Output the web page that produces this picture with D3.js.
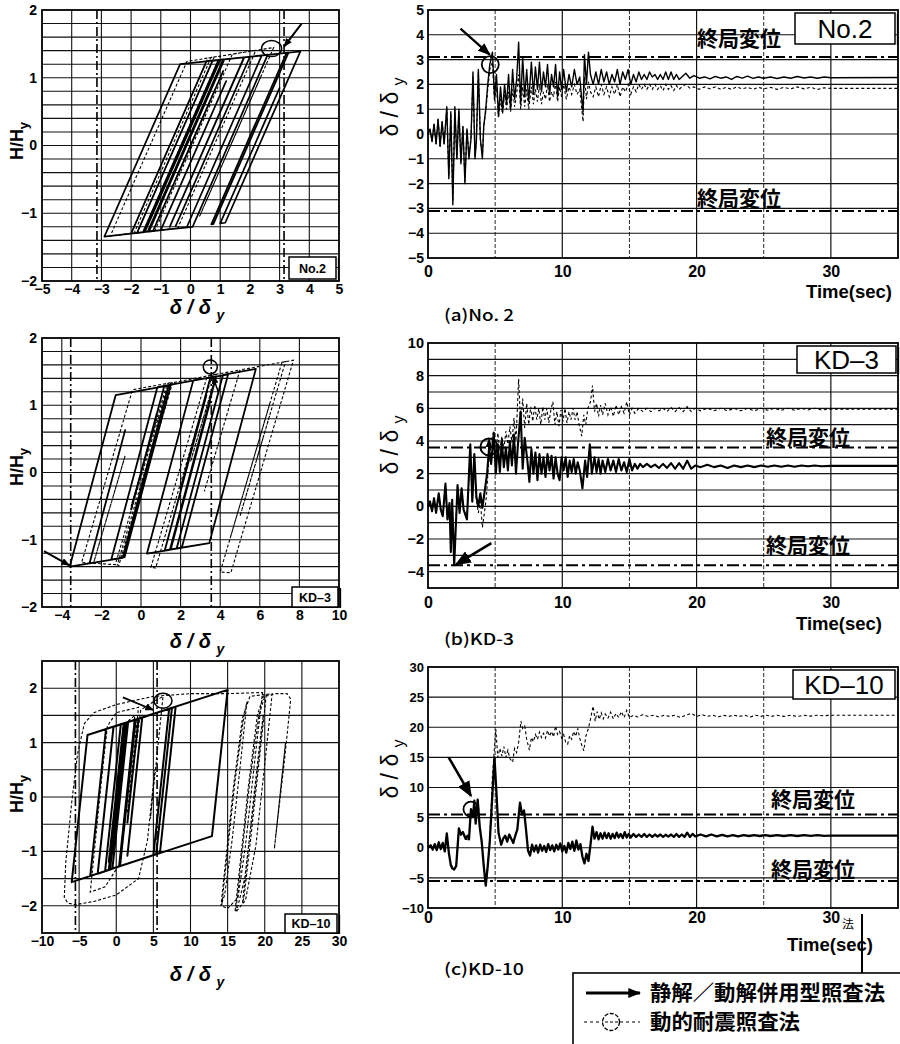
<!DOCTYPE html>
<html>
<head>
<meta charset="utf-8">
<script src="https://cdn.jsdelivr.net/npm/d3@7"></script>
<style>
  body { margin: 0; background: #fff; }
  svg text { font-family: "Liberation Sans", Arial, sans-serif; fill: #000; }
  .jp { font-family: "Noto Sans CJK JP", sans-serif; }
</style>
</head>
<body>
<svg id="fig" width="900" height="1044"></svg>
<script>
// hysteresis loops (delta/delta_y, H/H_y)
const hyNo2Solid = [[0,0],[0.6,0.6],[-0.4,-0.4],[0.7,0.7],[-0.5,-0.5],[1.1,1.1],[-1.26,-1.26],[-1.8,-1.29],[0.74,1.25],[1.1,1.27],[-1.44,-1.27],[-2.9,-1.345],[-0.35,1.2],[1.0,1.265],[-1.54,-1.28],[-2.0,-1.3],[0.54,1.245],[2.4,1.33],[-0.13,-1.21],[-1.6,-1.28],[0.94,1.26],[2.0,1.31],[-0.5,-1.19],[2.0,1.31],[2.6,1.34],[0.07,-1.2],[-1.0,-1.25],[1.2,0.95],[-1.0,-1.25],[-1.4,-1.27],[1.14,1.27],[1.8,1.3],[-0.7,-1.2],[1.81,1.3],[3.3,1.37],[0.77,-1.16],[0.7,-1.165],[3.23,1.365],[3.7,1.39],[1.17,-1.14],[1.0,-1.15],[3.0,0.85],[1.2,-0.95],[2.9,0.75],[1.5,-0.65],[2.8,0.65],[1.8,-0.35],[2.6,0.45],[2.0,-0.15],[2.5,0.35],[2.1,-0.05],[2.3,0.15]];
const hyNo2Dash = [[0,0],[0.6,0.6],[-0.4,-0.4],[0.8,0.8],[-0.5,-0.5],[1.1,1.1],[-1.26,-1.26],[-1.9,-1.295],[0.69,1.3],[1.0,1.32],[-1.6,-1.28],[-2.7,-1.335],[-0.12,1.24],[0.8,1.306],[-1.8,-1.29],[-2.0,-1.3],[0.59,1.29],[2.2,1.404],[-0.43,-1.22],[-1.2,-1.26],[1.41,1.35],[2.8,1.446],[0.3,-1.05],[2.4,1.05],[0.5,-0.85],[2.2,0.85],[0.8,-0.55],[2.0,0.65],[1.0,-0.35],[1.9,0.55],[1.6,0.25],[1.85,0.5]];
const hyKD3Solid = [[0,0],[0.8,0.88],[-0.5,-0.55],[1.17,1.28],[1.4,1.3],[-0.93,-1.27],[-2.6,-1.35],[-0.8,0.63],[-2.6,-1.35],[-3.6,-1.4],[-1.28,1.15],[1.5,1.3],[-0.83,-1.26],[-1.5,-1.295],[0.83,1.27],[3.8,1.43],[1.46,-1.15],[0.3,-1.205],[2.64,1.37],[3.5,1.41],[2.0,-0.24],[3.5,1.41],[4.4,1.46],[2.06,-1.12],[1.8,-1.13],[4.0,1.29],[2.0,-0.91],[4.14,1.45],[5.8,1.54],[3.45,-1.05],[1.5,-1.145],[3.5,1.06],[1.5,-1.145],[1.2,-1.16],[3.3,1.15],[1.8,-0.5],[3.0,0.82],[2.2,-0.06],[2.8,0.6],[2.5,0.27]];
const hyKD3Dash = [[0,0],[0.8,0.8],[-0.5,-0.5],[1.32,1.32],[1.4,1.33],[-1.3,-1.37],[-2.4,-1.35],[-0.8,0.25],[-2.4,-1.35],[-3.0,-1.34],[-0.43,1.23],[1.6,1.34],[-1.12,-1.38],[-1.2,-1.376],[1.51,1.33],[3.6,1.45],[0.74,-1.42],[0.5,-1.41],[3.34,1.43],[3.8,1.46],[2.5,0.16],[3.8,1.46],[5.0,1.525],[3.2,-0.28],[5.0,1.525],[7.7,1.67],[4.54,-1.49],[4.0,-1.48],[6.5,1.02],[4.5,-0.98],[7.12,1.64],[7.3,1.65],[5.0,-0.65],[6.5,0.85],[5.5,-0.15],[6.2,0.55],[5.8,0.15],[6.0,0.35]];
const hyKD10Solid = [[0,0],[1,1.27],[-0.5,-0.64],[1.07,1.35],[2.5,1.42],[0.38,-1.28],[-3.5,-1.45],[-1.38,1.25],[3.0,1.44],[1.5,-0.47],[3.0,1.44],[8.0,1.66],[5.88,-1.03],[5.0,-1.07],[7.12,1.62],[8.0,1.66],[5.88,-1.03],[-6.0,-1.565],[-3.87,1.14],[15,1.97],[12.89,-0.72],[0.5,-1.27],[2,0.64],[1,-0.64],[2.62,1.42],[7.5,1.64],[5.38,-1.05],[-1.5,-1.36],[0.62,1.34],[1,1.35],[-1,-1.19],[1.0,1.35],[1.2,1.36],[-0.8,-1.18],[1.0,1.11],[-0.92,-1.34],[-1.0,-1.34],[1.12,1.36],[1.3,1.365],[-0.6,-1.05],[0.9,0.86],[-0.7,-1.17],[1.1,1.12],[-0.83,-1.33],[-0.9,-1.335],[1.22,1.36],[1.4,1.37],[-0.5,-1.04],[1.4,1.37],[1.6,1.378],[-0.52,-1.32],[-2.5,-1.41],[-0.37,1.29],[3.5,1.46],[1.5,-1.08],[2.5,0.19],[1.8,-0.7],[2.2,-0.19],[2.0,-0.44]];
const hyKD10Dash = [[0,0],[1,1.2],[-0.5,-0.6],[1.2,1.35],[2.5,1.5],[0.6,-1.2],[-1.5,-1.65],[-3.5,-1.75],[-2.0,0.3],[-1.2,1.3],[0,1.55],[3.0,1.65],[1.5,-0.3],[3.3,1.6],[5.0,1.75],[6.3,1.85],[4.6,-0.4],[5.2,0.5],[4.2,-0.8],[3.0,-1.5],[0,-1.8],[-3,-1.92],[-5.5,-1.98],[-6.5,-1.95],[-7.0,-1.85],[-6.8,-1.2],[-6.0,-0.1],[-5.2,0.8],[-4.3,1.35],[-3,1.55],[0,1.7],[5,1.85],[10,1.9],[15,1.9],[19.7,1.92],[18.6,0.6],[17.4,-0.9],[16.4,-1.85],[15.0,-2.05],[14.2,-2.0],[16.0,0.3],[17.2,1.5],[17.6,1.75],[16.8,0.7],[15.6,-0.8],[14.6,-1.8],[14.1,-2.0],[15.8,0.2],[17.0,1.45],[18.0,1.85],[21,1.9],[20,0.6],[18.8,-0.9],[17.4,-1.9],[16.2,-2.1],[16.0,-2.1],[17.8,0.2],[19.0,1.5],[19.8,1.85],[20.2,1.88],[19.2,0.6],[18.0,-0.9],[17.2,-1.85],[17.0,-1.95],[18.6,0.1],[19.5,1.2],[19.8,1.5],[18.6,0],[17.3,-1.5],[16.3,-2.05],[16.1,-2.1],[18.0,0.3],[19.2,1.5],[20.0,1.85],[21.5,1.9],[23.0,1.9],[23.5,1.8],[22.6,0.6],[21.5,-0.7],[22.8,1.0],[21.3,-0.95],[22.5,0.6],[21.7,-0.45],[22.2,0.2],[22.0,-0.05]];

// time histories [time(sec), delta/delta_y]
const thNo2Solid = [[0,0],[0.15,0.2],[0.3,-0.3],[0.45,0.4],[0.6,-0.4],[0.75,0.6],[0.9,-0.5],[1.05,0.5],[1.2,-0.4],[1.4,1.1],[1.55,-1.8],[1.7,0.9],[1.85,-2.85],[2.0,1.1],[2.15,-1.0],[2.3,1.0],[2.45,-1.2],[2.6,0.3],[2.75,-2.0],[2.9,0.2],[3.05,-1.0],[3.2,-0.2],[3.35,2.5],[3.5,-1.0],[3.6,-0.3],[3.75,2.6],[3.9,-0.2],[4.05,-1.0],[4.15,0.3],[4.3,1.0],[4.45,2.0],[4.6,2.8],[4.8,3.3],[4.95,1.5],[5.1,2.4],[5.25,0.7],[5.4,1.9],[5.55,0.9],[5.7,2.0],[5.85,1.2],[6.0,2.4],[6.15,1.0],[6.3,2.6],[6.45,1.4],[6.6,2.2],[6.75,3.7],[6.9,1.2],[7.05,3.1],[7.2,1.5],[7.35,2.6],[7.5,1.3],[7.7,2.9],[7.85,1.6],[8.0,2.7],[8.15,1.8],[8.3,2.9],[8.45,1.7],[8.6,2.5],[8.75,1.9],[8.9,2.8],[9.05,1.6],[9.2,2.4],[9.35,1.9],[9.5,2.8],[9.65,1.5],[9.8,2.5],[9.95,1.8],[10.1,2.6],[10.3,1.7],[10.5,2.4],[10.7,1.9],[10.9,2.6],[11.1,2.0],[11.3,2.3],[11.45,1.4],[11.55,0.9],[11.65,3.2],[11.8,2.0],[11.95,3.3],[12.1,2.4],[12.3,2.0],[12.5,2.5],[12.7,2.0],[12.9,2.6],[13.1,2.1],[13.3,2.5],[13.5,2.0],[13.7,2.4],[13.9,2.1],[14.1,2.6],[14.3,2.0],[14.5,2.5],[14.7,2.2],[14.9,2.6],[15.1,2.0],[15.3,2.4],[15.5,2.1],[15.7,2.5],[15.9,2.2],[16.1,2.4],[16.3,2.2],[16.5,2.5],[16.7,2.3],[16.9,2.4],[17.1,2.2],[17.3,2.4],[17.5,2.2],[17.7,2.5],[17.9,2.2],[18.1,2.5],[18.3,2.2],[18.5,2.4],[18.7,2.2],[18.9,2.3],[19.2,2.45],[19.5,2.25],[19.8,2.35],[20.2,2.25],[20.6,2.3],[21.0,2.22],[21.4,2.32],[21.8,2.25],[22.2,2.3],[22.6,2.2],[23.0,2.32],[23.4,2.25],[23.8,2.33],[24.2,2.24],[24.6,2.3],[25.0,2.25],[25.5,2.3],[26.0,2.24],[26.5,2.3],[27.0,2.25],[27.5,2.32],[28.0,2.26],[28.5,2.3],[29.0,2.25],[29.5,2.3],[30.0,2.27],[35,2.28]];
const thNo2Dash = [[0,0],[0.15,0.2],[0.3,-0.3],[0.45,0.4],[0.6,-0.4],[0.75,0.6],[0.9,-0.5],[1.05,0.5],[1.2,-0.4],[1.4,1.0],[1.55,-1.7],[1.7,0.8],[1.85,-2.7],[2.0,1.0],[2.15,-1.0],[2.3,0.9],[2.45,-1.1],[2.6,0.3],[2.75,-1.9],[2.9,0.2],[3.05,-0.9],[3.2,-0.2],[3.35,2.3],[3.5,-0.9],[3.6,-0.3],[3.75,2.5],[3.9,-0.2],[4.05,-0.9],[4.15,0.3],[4.3,0.9],[4.45,1.8],[4.6,2.6],[4.8,2.9],[4.95,1.3],[5.1,1.9],[5.25,0.7],[5.4,1.4],[5.55,0.8],[5.7,1.6],[5.85,1.0],[6.0,1.7],[6.15,0.9],[6.3,1.8],[6.45,1.1],[6.6,1.6],[6.75,2.4],[6.9,1.0],[7.05,1.9],[7.2,1.1],[7.35,1.8],[7.5,1.0],[7.7,1.9],[7.85,1.2],[8.0,1.8],[8.15,1.3],[8.3,2.0],[8.45,1.2],[8.6,1.7],[8.75,1.4],[8.9,2.0],[9.05,1.3],[9.2,1.7],[9.35,1.5],[9.5,2.1],[9.65,1.3],[9.8,1.9],[9.95,1.5],[10.1,2.0],[10.3,1.4],[10.5,1.9],[10.7,1.6],[10.9,2.0],[11.1,1.6],[11.3,1.8],[11.45,1.0],[11.55,0.5],[11.65,2.3],[11.8,1.4],[11.95,2.1],[12.1,1.7],[12.3,1.5],[12.5,1.9],[12.7,1.5],[12.9,2.0],[13.1,1.6],[13.3,1.9],[13.5,1.5],[13.7,1.9],[13.9,1.6],[14.1,2.0],[14.3,1.5],[14.5,1.9],[14.7,1.7],[14.9,2.0],[15.1,1.6],[15.3,1.9],[15.5,1.7],[15.7,2.0],[15.9,1.8],[16.1,2.0],[16.3,1.8],[16.5,2.0],[16.7,1.8],[16.9,2.0],[17.1,1.8],[17.3,1.95],[17.5,1.75],[17.7,2.0],[17.9,1.8],[18.1,1.95],[18.3,1.75],[18.5,1.95],[18.7,1.8],[18.9,1.9],[19.2,2.0],[19.5,1.85],[19.8,1.9],[20.2,1.8],[20.6,1.9],[21.0,1.82],[21.4,1.9],[21.8,1.8],[22.2,1.88],[22.6,1.8],[23.0,1.9],[23.4,1.82],[23.8,1.88],[24.2,1.8],[24.6,1.88],[25.0,1.82],[25.5,1.88],[26.0,1.8],[26.5,1.88],[27.0,1.82],[27.5,1.9],[28.0,1.82],[28.5,1.88],[29.0,1.8],[29.5,1.86],[30.0,1.84],[35,1.84]];
const thKD3Solid = [[0,0],[0.15,0.3],[0.3,-0.3],[0.45,0.5],[0.6,-0.4],[0.8,0.8],[0.95,-0.2],[1.1,-0.6],[1.3,1.4],[1.45,-0.8],[1.6,0.2],[1.7,-2.8],[1.8,0.4],[1.95,-3.6],[2.2,1.3],[2.35,-0.4],[2.5,1.1],[2.65,-0.2],[2.9,-0.8],[3.15,3.8],[3.3,0.3],[3.45,3.2],[3.6,0.6],[3.75,0.0],[3.9,0.8],[4.05,-0.1],[4.2,0.8],[4.4,2.0],[4.55,3.6],[4.7,2.6],[4.9,4.5],[5.05,2.0],[5.2,3.8],[5.35,2.1],[5.5,4.0],[5.65,2.4],[5.8,3.6],[5.95,2.2],[6.1,4.0],[6.25,2.5],[6.4,4.4],[6.55,2.0],[6.7,3.8],[6.9,5.8],[7.05,2.3],[7.2,4.2],[7.4,2.8],[7.55,1.5],[7.7,3.5],[7.85,2.0],[8.0,3.3],[8.15,1.6],[8.3,3.2],[8.45,2.0],[8.6,3.0],[8.75,1.8],[8.9,3.2],[9.05,2.2],[9.2,3.1],[9.35,1.7],[9.5,3.0],[9.65,2.0],[9.8,1.6],[9.95,3.0],[10.1,2.2],[10.25,3.0],[10.4,1.8],[10.55,2.8],[10.7,2.1],[10.85,2.9],[11.0,2.0],[11.15,2.7],[11.3,2.2],[11.5,1.1],[11.7,2.8],[11.85,1.8],[12.05,3.8],[12.2,2.0],[12.4,3.0],[12.55,2.1],[12.7,2.9],[12.85,2.0],[13.0,2.8],[13.2,2.1],[13.4,2.9],[13.6,2.2],[13.8,2.8],[14.0,2.1],[14.2,2.9],[14.4,2.2],[14.6,2.7],[14.8,2.1],[15.0,2.9],[15.2,2.2],[15.4,2.6],[15.6,2.3],[15.8,2.6],[16.0,2.4],[16.3,2.6],[16.6,2.4],[16.9,2.55],[17.2,2.35],[17.5,2.6],[17.8,2.35],[18.1,2.65],[18.4,2.3],[18.7,2.65],[19.0,2.3],[19.3,2.8],[19.6,2.3],[19.9,2.5],[20.3,2.4],[20.8,2.55],[21.3,2.4],[21.8,2.5],[22.3,2.35],[22.8,2.5],[23.3,2.4],[23.8,2.5],[24.3,2.4],[24.8,2.5],[25.3,2.42],[25.8,2.5],[26.3,2.42],[26.8,2.5],[27.3,2.42],[27.8,2.5],[28.3,2.45],[28.8,2.5],[29.3,2.45],[30.0,2.48],[35,2.48]];
const thKD3Dash = [[0,0],[0.15,0.3],[0.3,-0.3],[0.45,0.5],[0.6,-0.4],[0.8,0.8],[0.95,-0.2],[1.1,-0.6],[1.3,1.3],[1.45,-0.8],[1.6,0.2],[1.7,-2.6],[1.8,0.4],[1.95,-3.3],[2.2,1.2],[2.35,-0.4],[2.5,1.0],[2.65,-0.2],[2.9,-0.7],[3.15,3.5],[3.3,0.2],[3.45,3.0],[3.6,0.4],[3.75,-0.4],[3.9,0.3],[4.05,-1.3],[4.2,-0.4],[4.35,0.6],[4.5,2.5],[4.7,4.0],[4.9,4.6],[5.05,3.2],[5.2,4.5],[5.35,3.4],[5.5,4.3],[5.65,3.5],[5.8,4.6],[5.95,3.8],[6.1,4.9],[6.25,3.9],[6.4,5.4],[6.55,4.0],[6.75,7.8],[6.9,5.0],[7.05,6.6],[7.2,4.8],[7.35,6.3],[7.5,5.0],[7.65,6.1],[7.8,5.2],[7.95,6.2],[8.1,5.3],[8.25,6.0],[8.4,5.0],[8.55,6.1],[8.7,5.3],[8.85,6.0],[9.0,5.1],[9.15,5.9],[9.3,6.4],[9.45,5.0],[9.6,5.8],[9.75,4.9],[9.9,5.9],[10.05,5.2],[10.2,6.0],[10.35,5.1],[10.5,5.8],[10.65,5.3],[10.8,6.0],[10.95,5.3],[11.1,5.8],[11.25,5.0],[11.45,4.3],[11.6,5.6],[11.75,5.0],[11.9,6.0],[12.1,6.4],[12.25,7.4],[12.4,5.8],[12.55,6.3],[12.7,5.5],[12.85,6.2],[13.0,5.6],[13.2,6.3],[13.4,5.6],[13.6,6.1],[13.8,5.5],[14.0,6.2],[14.2,5.6],[14.4,6.1],[14.6,5.7],[14.8,6.4],[15.0,5.6],[15.2,6.0],[15.4,5.7],[15.7,6.0],[16.0,5.8],[16.3,6.0],[16.6,5.8],[16.9,6.0],[17.2,5.85],[17.5,6.0],[17.8,5.8],[18.1,6.05],[18.4,5.8],[18.7,6.05],[19.0,5.8],[19.3,6.1],[19.6,5.8],[19.9,6.0],[20.3,5.85],[20.8,6.0],[21.3,5.85],[21.8,6.0],[22.3,5.85],[22.8,6.0],[23.3,5.85],[23.8,6.0],[24.3,5.85],[24.8,6.0],[25.3,5.88],[25.8,6.0],[26.3,5.88],[26.8,6.0],[27.3,5.88],[27.8,6.0],[28.3,5.9],[28.8,6.0],[29.3,5.9],[30,5.95],[35,5.95]];
const thKD10Solid = [[0,0],[0.2,0.4],[0.35,-0.3],[0.5,0.6],[0.65,-0.4],[0.8,0.9],[0.95,-0.2],[1.1,0.8],[1.25,-0.6],[1.4,2.4],[1.55,-0.8],[1.7,-2.9],[1.8,-3.4],[1.95,-3.6],[2.1,-3.0],[2.3,3.2],[2.45,2.2],[2.6,2.6],[2.8,1.5],[2.95,2.0],[3.05,1.4],[3.2,6.4],[3.35,5.2],[3.45,7.8],[3.55,4.0],[3.7,8.0],[3.85,3.5],[4.0,1.0],[4.15,-3.0],[4.3,-6.3],[4.45,-3.0],[4.6,1.0],[4.8,9.0],[4.95,15.0],[5.1,9.0],[5.25,2.5],[5.45,0.5],[5.6,1.5],[5.75,2.0],[5.9,1.0],[6.05,2.2],[6.2,1.5],[6.35,0.8],[6.5,2.0],[6.65,3.0],[6.85,7.5],[7.0,5.5],[7.15,6.2],[7.3,3.0],[7.45,-0.5],[7.6,-1.3],[7.75,0.5],[7.9,-0.6],[8.05,0.4],[8.2,-0.8],[8.35,0.5],[8.5,-0.5],[8.65,0.3],[8.8,-0.7],[8.95,0.6],[9.1,-0.4],[9.25,0.4],[9.4,-0.6],[9.55,0.5],[9.7,-0.3],[9.85,0.7],[10.0,-0.6],[10.15,0.3],[10.3,-0.8],[10.45,0.8],[10.6,-0.2],[10.75,1.0],[10.9,-0.5],[11.05,1.2],[11.2,-0.3],[11.35,0.6],[11.5,-1.5],[11.65,-2.6],[11.8,-1.0],[11.95,-2.2],[12.1,0.5],[12.25,3.5],[12.4,1.5],[12.55,2.6],[12.7,1.4],[12.85,2.4],[13.0,1.5],[13.15,2.5],[13.3,1.6],[13.45,2.4],[13.6,1.5],[13.75,2.3],[13.9,1.6],[14.05,2.5],[14.2,1.7],[14.35,2.3],[14.5,1.6],[14.65,2.6],[14.8,1.7],[14.95,2.3],[15.1,1.7],[15.3,2.3],[15.5,1.8],[15.7,2.2],[15.9,1.8],[16.1,2.3],[16.3,1.8],[16.5,2.2],[16.7,1.8],[16.9,2.2],[17.1,1.85],[17.3,2.2],[17.5,1.8],[17.7,2.15],[17.9,1.85],[18.1,2.2],[18.3,1.8],[18.5,2.3],[18.7,1.8],[18.9,2.2],[19.1,1.8],[19.3,2.5],[19.5,1.8],[19.7,2.3],[19.9,1.9],[20.3,2.2],[20.7,1.9],[21.1,2.2],[21.5,1.9],[21.9,2.15],[22.3,1.9],[22.7,2.1],[23.1,1.9],[23.5,2.1],[23.9,1.95],[24.3,2.1],[24.7,1.95],[25.1,2.1],[25.5,1.95],[26,2.1],[26.5,1.95],[27,2.08],[27.5,1.95],[28,2.08],[28.5,1.98],[29,2.08],[29.5,1.98],[30,2.0],[35,2.0]];
const thKD10Dash = [[0,0],[0.2,0.4],[0.35,-0.3],[0.5,0.6],[0.65,-0.4],[0.8,0.9],[0.95,-0.2],[1.1,0.8],[1.25,-0.6],[1.4,2.3],[1.55,-0.8],[1.7,-2.8],[1.95,-3.5],[2.1,-3.0],[2.3,3.0],[2.45,2.1],[2.6,2.5],[2.8,1.4],[3.05,1.3],[3.2,6.0],[3.35,5.0],[3.45,7.5],[3.55,4.0],[3.7,7.7],[3.85,3.5],[4.0,1.0],[4.15,-3.0],[4.3,-6.0],[4.45,-3.0],[4.6,1.5],[4.8,12.0],[5.05,19.7],[5.2,15.0],[5.35,16.5],[5.5,15.2],[5.65,16.8],[5.8,15.0],[5.95,16.2],[6.1,14.8],[6.3,14.2],[6.45,16.5],[6.6,15.8],[6.75,17.5],[6.92,21.0],[7.05,19.8],[7.2,20.2],[7.35,18.0],[7.55,16.2],[7.7,18.3],[7.85,17.6],[8.0,18.8],[8.15,18.0],[8.3,19.2],[8.45,18.3],[8.6,19.0],[8.75,18.2],[8.9,19.5],[9.05,18.5],[9.2,19.3],[9.35,18.4],[9.5,20.2],[9.65,18.8],[9.8,19.3],[9.95,18.2],[10.1,18.8],[10.25,17.5],[10.4,17.2],[10.55,18.6],[10.7,18.0],[10.85,19.3],[11.0,18.5],[11.15,19.8],[11.3,18.2],[11.45,17.0],[11.6,16.1],[11.75,18.5],[11.9,19.5],[12.05,20.8],[12.2,22.5],[12.3,23.5],[12.45,21.0],[12.6,22.6],[12.75,21.3],[12.9,22.4],[13.05,21.4],[13.2,22.2],[13.4,21.5],[13.6,22.5],[13.8,21.4],[14.0,22.3],[14.2,21.6],[14.4,22.6],[14.6,21.6],[14.8,22.8],[15.0,21.6],[15.3,22.0],[15.6,21.7],[16.0,22.1],[16.4,21.8],[16.8,22.0],[17.2,21.7],[17.6,22.0],[18.0,21.8],[18.4,22.0],[18.8,21.6],[19.2,22.0],[19.6,22.3],[20.0,21.8],[20.4,22.1],[20.8,21.8],[21.2,22.0],[21.6,21.7],[22.0,22.0],[22.4,21.8],[22.8,22.0],[23.2,21.8],[23.6,22.0],[24.0,21.7],[24.4,22.0],[24.8,21.8],[25.2,22.0],[25.6,21.8],[26,22.0],[26.5,21.8],[27,22.0],[27.5,21.8],[28,22.0],[28.5,21.85],[29,22.0],[29.5,21.9],[30,22.0],[35,22.0]];

// tick labels
const no2HxTicks = [-5,-4,-3,-2,-1,0,1,2,3,4,5];
const kd3HxTicks = [-4,-2,0,2,4,6,8,10];
const kd10HxTicks = [-10,-5,0,5,10,15,20,25,30];
const hyTicks = [-2,-1,0,1,2];
const timeTicks = [0,10,20,30];
const no2TTicks = [-5,-4,-3,-2,-1,0,1,2,3,4,5];
const kd3TTicks = [-4,-2,0,2,4,6,8,10];
const kd10TTicks = [-10,-5,0,5,10,15,20,25,30];

// ultimate displacement (終局変位)
const ultNo2 = 3.1, ultKD3 = 3.6, ultKD10 = 5.5;

const svg = d3.select("#fig");
const defs = svg.append("defs");
[["ahS", 9, 7], ["ahM", 13, 10], ["ahL", 16, 13]].forEach(function (m) {
  defs.append("marker").attr("id", m[0])
    .attr("viewBox", "0 0 10 10").attr("refX", 9).attr("refY", 5)
    .attr("markerUnits", "userSpaceOnUse")
    .attr("markerWidth", m[1]).attr("markerHeight", m[2])
    .attr("preserveAspectRatio", "none").attr("orient", "auto")
    .append("path").attr("d", "M0,0 L10,5 L0,10 z").attr("fill", "#000");
});

const intFormat = d3.format("d");

function labelBox(x, y, w, h, text, size, weight) {
  svg.append("line").attr("x1", x + w + 2.5).attr("x2", x + w + 2.5)
    .attr("y1", y + 1).attr("y2", y + h + 1).attr("stroke", "#000").attr("stroke-width", 1.3);
  svg.append("rect").attr("x", x).attr("y", y).attr("width", w).attr("height", h)
    .attr("fill", "#fff").attr("stroke", "#000").attr("stroke-width", 1.5);
  svg.append("text").attr("x", x + w / 2).attr("y", y + h / 2 + size * 0.36)
    .attr("text-anchor", "middle").attr("font-size", size).attr("font-weight", weight)
    .text(text);
}

function arrow(x1, y1, x2, y2, width, marker) {
  svg.append("line").attr("x1", x1).attr("y1", y1).attr("x2", x2).attr("y2", y2)
    .attr("stroke", "#000").attr("stroke-width", width)
    .attr("marker-end", "url(#" + marker + ")");
}

function drawHysteresis(p) {
  const x = d3.scaleLinear().domain(p.xDomain).range([42, 339]);
  const y = d3.scaleLinear().domain(p.yDomain).range([p.bottom, p.top]);
  const g = svg.append("g");

  g.append("g").selectAll("line").data(p.xGrid).join("line")
    .attr("x1", d => x(d)).attr("x2", d => x(d))
    .attr("y1", p.top).attr("y2", p.bottom)
    .attr("stroke", "#111").attr("stroke-width", 1.1);
  g.append("g").selectAll("line").data(p.yGrid).join("line")
    .attr("x1", 42).attr("x2", 339)
    .attr("y1", d => y(d)).attr("y2", d => y(d))
    .attr("stroke", "#111").attr("stroke-width", 1.1);

  g.append("g").selectAll("line").data([-p.ult, p.ult]).join("line")
    .attr("x1", d => x(d)).attr("x2", d => x(d))
    .attr("y1", p.top).attr("y2", p.bottom)
    .attr("stroke", "#000").attr("stroke-width", 1.6)
    .attr("stroke-dasharray", "9,3,2,3");

  const line = d3.line().x(d => x(d[0])).y(d => y(d[1]));
  g.append("path").datum(p.dash).attr("d", line)
    .attr("fill", "none").attr("stroke", "#000").attr("stroke-width", 1.1)
    .attr("stroke-dasharray", "3,2");
  g.append("path").datum(p.solid).attr("d", line)
    .attr("fill", "none").attr("stroke", "#000").attr("stroke-width", p.solidWidth)
    .attr("stroke-linejoin", "round");

  g.append("rect").attr("x", 42).attr("y", p.top)
    .attr("width", 297).attr("height", p.bottom - p.top)
    .attr("fill", "none").attr("stroke", "#000").attr("stroke-width", 1.8);

  const ax = g.append("g").attr("transform", `translate(0,${p.bottom})`)
    .call(d3.axisBottom(x).tickValues(p.xTicks).tickFormat(intFormat).tickSize(0).tickPadding(3));
  ax.select(".domain").remove();
  ax.attr("font-family", null).attr("font-size", 14).attr("font-weight", "bold");

  const ay = g.append("g").attr("transform", "translate(42,0)")
    .call(d3.axisLeft(y).tickValues(hyTicks).tickFormat(intFormat).tickSize(0).tickPadding(5));
  ay.select(".domain").remove();
  ay.attr("font-family", null).attr("font-size", 14).attr("font-weight", "bold");

  const yt = g.append("text").attr("transform", `translate(23,${p.yTitle}) rotate(-90)`)
    .attr("text-anchor", "middle").attr("font-size", 18).attr("font-weight", "bold");
  yt.append("tspan").text("H/H");
  yt.append("tspan").attr("font-size", 13).attr("dy", 5).text("y");

  const xt = g.append("text").attr("x", 197).attr("y", p.xTitle)
    .attr("text-anchor", "middle").attr("font-size", 20).attr("font-weight", "bold")
    .attr("font-style", "italic");
  xt.append("tspan").text("δ / δ ");
  xt.append("tspan").attr("font-size", 14).attr("dy", 6).text("y");

  labelBox(p.box[0], p.box[1], p.box[2], p.box[3], p.label, 12.5, "bold");

  p.marks(x, y);
}

function drawHistory(p) {
  const x = d3.scaleLinear().domain([0, 35]).range([428, 898]);
  const y = d3.scaleLinear().domain(p.yDomain).range([p.bottom, p.top]);
  const g = svg.append("g");

  g.append("g").selectAll("line").data([5, 10, 15, 20, 25, 30]).join("line")
    .attr("x1", d => x(d)).attr("x2", d => x(d))
    .attr("y1", p.top).attr("y2", p.bottom)
    .attr("stroke", "#111").attr("stroke-width", d => d % 10 ? 0.9 : 1.2)
    .attr("stroke-dasharray", d => d % 10 ? "4,2" : null);
  g.append("g").selectAll("line").data(p.yGrid).join("line")
    .attr("x1", 428).attr("x2", 898)
    .attr("y1", d => y(d)).attr("y2", d => y(d))
    .attr("stroke", "#111").attr("stroke-width", 1.1);

  g.append("g").selectAll("line").data([-p.ult, p.ult]).join("line")
    .attr("x1", 428).attr("x2", 898)
    .attr("y1", d => y(d)).attr("y2", d => y(d))
    .attr("stroke", "#000").attr("stroke-width", 2)
    .attr("stroke-dasharray", "12,4,3,4");

  const line = d3.line().x(d => x(d[0])).y(d => y(d[1]));
  g.append("path").datum(p.dash).attr("d", line)
    .attr("fill", "none").attr("stroke", "#000").attr("stroke-width", 1.1)
    .attr("stroke-dasharray", "3,2.5");
  g.append("path").datum(p.solid).attr("d", line)
    .attr("fill", "none").attr("stroke", "#000").attr("stroke-width", p.solidWidth)
    .attr("stroke-linejoin", "round");

  g.append("rect").attr("x", 428).attr("y", p.top)
    .attr("width", 470).attr("height", p.bottom - p.top)
    .attr("fill", "none").attr("stroke", "#000").attr("stroke-width", 1.8);

  const ax = g.append("g").attr("transform", `translate(0,${p.bottom})`)
    .call(d3.axisBottom(x).tickValues(timeTicks).tickSize(0).tickPadding(p.xPad));
  ax.select(".domain").remove();
  ax.attr("font-family", null).attr("font-size", 16).attr("font-weight", "bold");

  const ay = g.append("g").attr("transform", "translate(428,0)")
    .call(d3.axisLeft(y).tickValues(p.yTicks).tickFormat(intFormat).tickSize(0).tickPadding(4));
  ay.select(".domain").remove();
  ay.attr("font-family", null).attr("font-size", p.yFont).attr("font-weight", "bold");

  const yt = g.append("text").attr("transform", `translate(398,${p.yTitle}) rotate(-90)`)
    .attr("text-anchor", "middle").attr("font-size", 23);
  yt.append("tspan").text("δ / δ ");
  yt.append("tspan").attr("font-size", 16).attr("dy", 6).text("y");

  g.append("text").attr("x", p.timeX).attr("y", p.timeY).attr("text-anchor", "middle")
    .attr("font-size", 18.5).attr("font-weight", "bold").text("Time(sec)");

  g.append("text").attr("class", "jp").attr("x", 444).attr("y", p.capY)
    .attr("font-size", 16).attr("font-weight", 500)
    .attr("textLength", p.capW).attr("lengthAdjust", "spacingAndGlyphs")
    .text(p.caption);

  g.selectAll(".ult").data(p.ultText).join("text").attr("class", "jp")
    .attr("x", p.ultX).attr("y", d => d).attr("font-size", 21).attr("font-weight", "bold")
    .text("終局変位");

  labelBox(p.box[0], p.box[1], p.box[2], p.box[3], p.label, 26, "normal");

  p.marks(x, y);
}

drawHysteresis({
  xDomain: [-5, 5], yDomain: [-2, 2], top: 10, bottom: 281,
  xGrid: d3.range(-4, 4.5, 1), yGrid: d3.range(-1.8, 1.9, 0.2),
  xTicks: no2HxTicks, ult: 3.15, solid: hyNo2Solid, dash: hyNo2Dash, solidWidth: 1.7,
  yTitle: 141, xTitle: 314, label: "No.2", box: [289, 257, 47, 22],
  marks: function (x, y) {
    svg.append("ellipse").attr("cx", x(2.73)).attr("cy", y(1.43)).attr("rx", 10).attr("ry", 8)
      .attr("fill", "none").attr("stroke", "#000").attr("stroke-width", 1.5);
    arrow(x(3.74), y(1.8), x(3.15), y(1.46), 2, "ahS");
  }
});

drawHysteresis({
  xDomain: [-5, 10], yDomain: [-2, 2], top: 338, bottom: 607,
  xGrid: [-4, -2, 0, 2, 4, 6, 8], yGrid: d3.range(-1.8, 1.9, 0.2),
  xTicks: kd3HxTicks, ult: 3.55, solid: hyKD3Solid, dash: hyKD3Dash, solidWidth: 1.8,
  yTitle: 467, xTitle: 648, label: "KD–3", box: [292, 587, 46, 20],
  marks: function (x, y) {
    svg.append("circle").attr("cx", x(3.5)).attr("cy", y(1.57)).attr("r", 7)
      .attr("fill", "none").attr("stroke", "#000").attr("stroke-width", 1.5);
    arrow(x(3.9), y(1.2), x(3.62), y(1.44), 1.5, "ahS");
    arrow(x(-4.9), y(-1.17), x(-3.62), y(-1.38), 2, "ahS");
  }
});

drawHysteresis({
  xDomain: [-10, 30], yDomain: [-2.5, 2.5], top: 661, bottom: 933,
  xGrid: [-5, 0, 5, 10, 15, 20, 25], yGrid: d3.range(-2, 2.1, 0.5),
  xTicks: kd10HxTicks, ult: 5.5, solid: hyKD10Solid, dash: hyKD10Dash, solidWidth: 2,
  yTitle: 794, xTitle: 981, label: "KD–10", box: [285, 914, 52, 19],
  marks: function (x, y) {
    svg.append("ellipse").attr("cx", x(6.3)).attr("cy", y(1.77)).attr("rx", 9).attr("ry", 7.5)
      .attr("fill", "none").attr("stroke", "#000").attr("stroke-width", 1.5);
    arrow(x(0.9), y(1.83), x(5.0), y(1.6), 1.8, "ahS");
  }
});

drawHistory({
  yDomain: [-5, 5], top: 10, bottom: 258, yGrid: d3.range(-4, 4.5, 1),
  yTicks: no2TTicks, yFont: 14, ult: ultNo2, solid: thNo2Solid, dash: thNo2Dash, solidWidth: 1.4,
  xPad: 8, yTitle: 107, timeX: 849, timeY: 298, caption: "(a)No. 2", capY: 321, capW: 70,
  ultX: 697, ultText: [46, 206], label: "No.2", box: [795, 13, 100, 31],
  marks: function (x, y) {
    svg.append("circle").attr("cx", x(4.64)).attr("cy", y(2.8)).attr("r", 8.5)
      .attr("fill", "none").attr("stroke", "#000").attr("stroke-width", 1.8);
    arrow(x(2.42), y(4.25), x(4.6), y(3.2), 2.2, "ahM");
  }
});

drawHistory({
  yDomain: [-5, 10], top: 343, bottom: 588, yGrid: d3.range(-4, 9.5, 1),
  yTicks: kd3TTicks, yFont: 14.5, ult: ultKD3, solid: thKD3Solid, dash: thKD3Dash, solidWidth: 2.1,
  xPad: 9, yTitle: 445, timeX: 839, timeY: 630, caption: "(b)KD-3", capY: 645, capW: 70,
  ultX: 766, ultText: [445, 553], label: "KD–3", box: [797, 346, 99, 27],
  marks: function (x, y) {
    svg.append("circle").attr("cx", x(4.54)).attr("cy", y(3.64)).attr("r", 8.5)
      .attr("fill", "none").attr("stroke", "#000").attr("stroke-width", 2);
    arrow(x(4.54), y(2.9), x(4.54), y(4.1), 1.5, "ahS");
    arrow(x(4.72), y(-2.25), x(2.1), y(-3.55), 2.6, "ahL");
  }
});

drawHistory({
  yDomain: [-10, 30], top: 667, bottom: 908, yGrid: d3.range(-5, 25.5, 5),
  yTicks: kd10TTicks, yFont: 13, ult: ultKD10, solid: thKD10Solid, dash: thKD10Dash, solidWidth: 2.3,
  xPad: 4, yTitle: 769, timeX: 830, timeY: 951, caption: "(c)KD-10", capY: 975, capW: 80,
  ultX: 771, ultText: [807, 877], label: "KD–10", box: [793, 670, 102, 29],
  marks: function (x, y) {
    svg.append("circle").attr("cx", x(3.2)).attr("cy", y(6.4)).attr("r", 7.5)
      .attr("fill", "none").attr("stroke", "#000").attr("stroke-width", 1.8);
    arrow(x(1.54), y(15), x(3.2), y(8.6), 2.6, "ahL");
  }
});

// stray note mark and legend
svg.append("text").attr("class", "jp").attr("x", 848).attr("y", 929)
  .attr("text-anchor", "middle").attr("font-size", 12).text("法");
svg.append("line").attr("x1", 862).attr("x2", 862).attr("y1", 914).attr("y2", 973)
  .attr("stroke", "#000").attr("stroke-width", 2);

const legend = svg.append("g");
legend.append("rect").attr("x", 573).attr("y", 973).attr("width", 340).attr("height", 90)
  .attr("fill", "#fff").attr("stroke", "#000").attr("stroke-width", 1.6);
arrow(586, 993, 640, 993, 3, "ahM");
legend.append("text").attr("class", "jp").attr("x", 650).attr("y", 1000)
  .attr("font-size", 21).attr("font-weight", "bold").attr("textLength", 235)
  .attr("lengthAdjust", "spacingAndGlyphs").text("静解／動解併用型照査法");
legend.append("line").attr("x1", 584).attr("x2", 640).attr("y1", 1022).attr("y2", 1022)
  .attr("stroke", "#000").attr("stroke-width", 1.2).attr("stroke-dasharray", "3,3");
legend.append("circle").attr("cx", 611).attr("cy", 1022).attr("r", 8.5)
  .attr("fill", "#fff").attr("stroke", "#000").attr("stroke-width", 1.3)
  .attr("stroke-dasharray", "4,1.5");
legend.append("line").attr("x1", 605).attr("x2", 618).attr("y1", 1022).attr("y2", 1022)
  .attr("stroke", "#000").attr("stroke-width", 1.2).attr("stroke-dasharray", "3,2");
legend.append("text").attr("class", "jp").attr("x", 650).attr("y", 1029)
  .attr("font-size", 21).attr("font-weight", "bold").attr("textLength", 150)
  .attr("lengthAdjust", "spacingAndGlyphs").text("動的耐震照査法");
</script>
</body>
</html>
